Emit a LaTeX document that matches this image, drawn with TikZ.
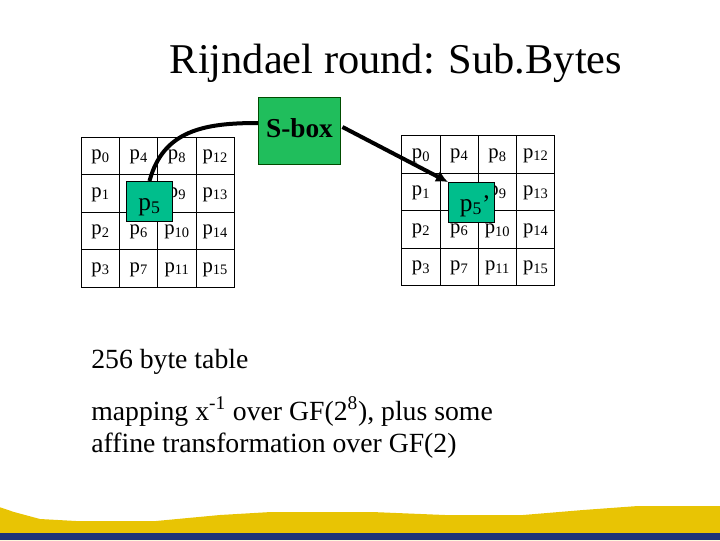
\documentclass[tikz,border=0pt]{standalone}
\usepackage{fontspec}
\setmainfont{Liberation Serif}
\usetikzlibrary{positioning, arrows.meta}
\definecolor{boxgreen}{RGB}{32,190,92}
\definecolor{bytegreen}{RGB}{0,190,140}
\definecolor{bandyellow}{RGB}{232,196,4}
\definecolor{bandblue}{RGB}{28,52,122}
\tikzset{
  cell/.style={draw, line width=0.75pt, outer sep=0pt, inner sep=0pt, minimum width=28.7pt, minimum height=28.1pt, text height=9pt, text depth=3.4pt, font=\fontsize{15.5}{18}\selectfont},
  bytebox/.style={draw, fill=bytegreen, line width=0.75pt, outer sep=0pt, inner sep=0pt, minimum width=34.5pt, minimum height=30.7pt, text height=13.5pt, text depth=0.7pt, font=\fontsize{19}{22}\selectfont},
  sboxnode/.style={draw=black!70!green, fill=boxgreen, line width=0.75pt, outer sep=0pt, inner sep=0pt, minimum width=62.2pt, minimum height=49.5pt, text height=13pt, text depth=3.6pt, font=\fontsize{20.5}{24}\selectfont\bfseries},
  bodytext/.style={anchor=base west, inner sep=0pt, align=left, font=\fontsize{20.8}{24}\selectfont},
  flow/.style={line width=3pt, -{Latex[length=9pt,width=9pt]}},
  flowplain/.style={line width=3pt}
}
\begin{document}
\begin{tikzpicture}[x=0.75pt, y=0.75pt]
    \useasboundingbox (0,0) rectangle (720,540);
    % bottom band
    \fill[bandyellow] (0,0) -- (0,32.7) -- (14,28) -- (40,21) -- (76,19) -- (156,19) -- (220,25) -- (271,28) -- (372,28) -- (445,25) -- (523,25) -- (583,30) -- (638,34) -- (720,34) -- (720,0) -- cycle;
    \fill[bandblue] (0,0) rectangle (720,7.3);
    \node[font=\fontsize{31.8}{36}\selectfont] (title) at (396,477) {Rijndael round: Sub.Bytes};
    % the two states
    \foreach \g/\gx/\gy in {a/100.6/384.2, b/421.1/385.7}
      \foreach \c in {0,...,3}
        \foreach \r in {0,...,3} {
          \pgfmathtruncatemacro{\n}{4*\c+\r}
          \ifnum\n=5
            \node[cell] (\g\n) at (\gx+38.25*\c, \gy-37.5*\r) {};
          \else
            \node[cell] (\g\n) at (\gx+38.25*\c, \gy-37.5*\r) {p\textsubscript{\n}};
          \fi
        }
    \node[bytebox] (pin) at (149.5,338.5) {p\textsubscript{5}};
    \node[bytebox] (pout) at (471,337.5) {p\textsubscript{5}\rlap{\raisebox{-1pt}{'}}};
    \node[sboxnode] (sbox) at (299.5,409) {S-box};
    \draw[flowplain] (sbox.west) ++(0,8) coordinate (sin) to[out=180, in=75, looseness=1.1] (pin.north);
    \draw[flow] (sbox.east) ++(1.5,4) coordinate (sout) -- (pout.north west);
    \node[bodytext] (table) at (91,172) {256 byte table};
    \node[bodytext] (mapping) at (91,88) {mapping x\textsuperscript{-1} over GF(2\textsuperscript{8}), plus some\\affine transformation over GF(2)};
  \end{tikzpicture}
\end{document}
